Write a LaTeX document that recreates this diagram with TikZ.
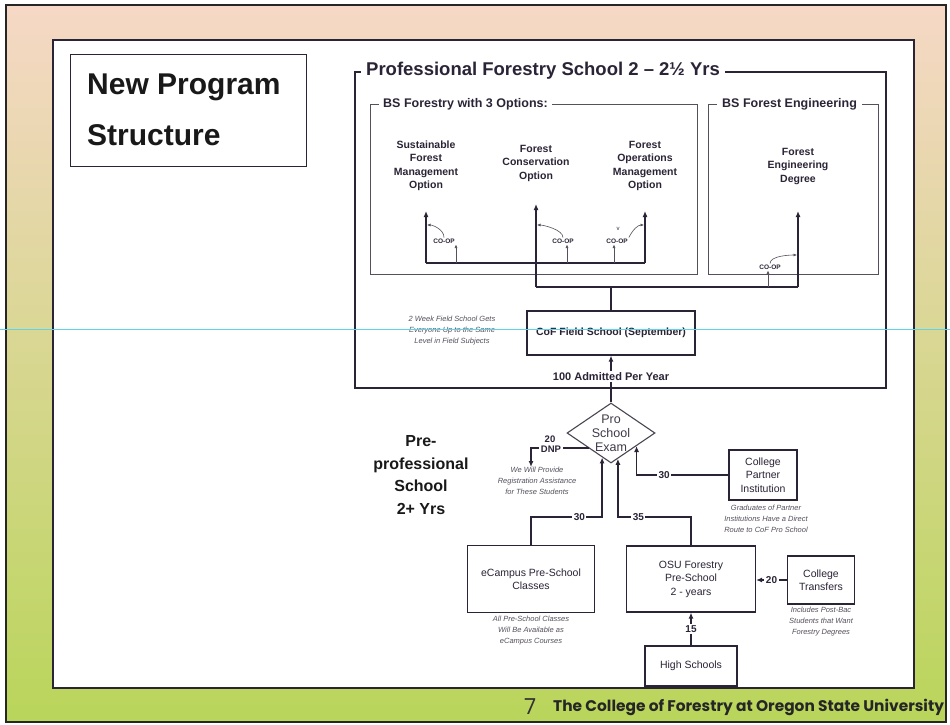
\documentclass[tikz,border=0pt]{standalone}
\usepackage{fontspec}
\setmainfont{Liberation Sans}
\newfontfamily\footfont{Poppins}
\usetikzlibrary{arrows.meta,shapes.geometric}
\definecolor{ink}{HTML}{2B2436}
\definecolor{notegray}{HTML}{55505C}
\definecolor{peach}{HTML}{F6D8C6}
\definecolor{sand}{HTML}{F1DA8E}
\definecolor{lime}{HTML}{B9D55A}
\definecolor{scanline}{HTML}{5FD3EC}
\tikzset{
  box/.style={draw=ink, line width=1.1pt, fill=white, align=center, inner sep=2pt,
    font=\fontsize{10.5}{13.5}\selectfont, text=ink},
  conn/.style={draw=ink, line width=1.7pt},
  arr/.style={conn, -{Latex[length=6pt,width=5pt]}},
  tinyarr/.style={draw=notegray, line width=0.6pt, -{Latex[length=3.5pt,width=3pt]}},
  optlabel/.style={font=\bfseries\fontsize{10.5}{13.5}\selectfont, align=center, text=ink},
  note/.style={font=\itshape\fontsize{7.5}{11}\selectfont, align=center, text=notegray},
  num/.style={font=\bfseries\fontsize{10}{12}\selectfont, fill=white, inner sep=1.5pt, text=ink},
  coop/.style={font=\bfseries\fontsize{6.5}{8}\selectfont, inner sep=1pt, text=ink},
  grouptitle/.style={font=\bfseries\fontsize{12.5}{15}\selectfont, fill=white, inner sep=4pt, anchor=west, text=ink}
}
\begin{document}
\begin{tikzpicture}[x=1pt,y=-1pt]
\useasboundingbox (0,0) rectangle (950,725);
% slide frame
\shade[top color=peach, middle color=sand, bottom color=lime] (6,5) rectangle (946,722);
\draw[black!85, line width=1.8pt] (6,5) rectangle (946,722);
\draw[ink, line width=1.2pt, fill=white] (53,40) rectangle (914,688);

% title box
\node[draw=ink, line width=1pt, fill=white, minimum width=236pt, minimum height=111pt, inner sep=0pt] (titlebox) at (188,110.5) {};
\node[anchor=west, align=left, font=\bfseries\fontsize{30}{51}\selectfont, text=black!90, inner sep=0pt] (titletext) at (87,110) {New Program\\Structure};

% professional school
\draw[ink, line width=1.8pt] (355,72) rectangle (886,388);
\node[grouptitle, font=\bfseries\fontsize{18.5}{20}\selectfont, inner sep=5pt] (proftitle) at (361,71) {Professional Forestry School 2 – 2½ Yrs};

\draw[ink!80, line width=0.9pt] (370,104) rectangle (697,274);
\node[grouptitle] (bsftitle) at (379,104) {BS Forestry with 3 Options:};
\draw[ink!80, line width=0.9pt] (708,104) rectangle (878,274);
\node[grouptitle, inner sep=5pt] (bsfetitle) at (717,104) {BS Forest Engineering};

% option labels
\node[optlabel] (sfm) at (426,166) {Sustainable\\Forest\\Management\\Option};
\node[optlabel] (fc) at (536,163) {Forest\\Conservation\\Option};
\node[optlabel] (fom) at (645,166) {Forest\\Operations\\Management\\Option};
\node[optlabel] (fe) at (798,166) {Forest\\Engineering\\Degree};
\coordinate (sfmtip) at (426,211);
\coordinate (fctip) at (536,204);
\coordinate (fomtip) at (645,211);
\coordinate (fetip) at (798,211);

% junctions
\coordinate (jL) at (426,263);
\coordinate (jR) at (645,263);
\coordinate (jM) at (536,287);
\coordinate (jFE) at (798,287);
\draw[conn] (jL) -- (jR);
\draw[arr] (jL) -- (sfmtip);
\draw[arr] (jR) -- (fomtip);
\draw[arr] (jM) -- (fctip);
\draw[arr] (jFE) -- (fetip);
\draw[conn] (jM) -- (jFE);

% CO-OP labels
\node[coop] (c1) at (444,241) {CO-OP};
\node[coop] (c2) at (563,241) {CO-OP};
\node[coop] (c3) at (617,241) {CO-OP};
\node[coop] (c4) at (770,267) {CO-OP};
\node[coop, font=\fontsize{6}{7}\selectfont] (vmark) at (618,229) {v};
\coordinate (u1) at (456,263);
\coordinate (u2) at (567,263);
\coordinate (u3) at (614,263);
\coordinate (u4) at (768,287);
\draw[tinyarr] (u1) -- (u1 |- c1.south);
\draw[tinyarr] (u2) -- (u2 |- c2.south);
\draw[tinyarr] (u3) -- (u3 |- c3.south);
\draw[tinyarr] (u4) -- (u4 |- c4.south);
\coordinate (l1) at (427,225);
\coordinate (l2) at (537,225);
\coordinate (l3) at (644,225);
\coordinate (l4) at (797,255);
\draw[tinyarr] (c1.north) .. controls +(0,-8) and +(6,0) .. (l1);
\draw[tinyarr] (c2.north) .. controls +(0,-8) and +(6,0) .. (l2);
\draw[tinyarr] (c3.north east) .. controls +(4,-8) and +(-6,0) .. (l3);
\draw[tinyarr] (c4.north) .. controls +(0,-8) and +(-6,0) .. (l4);

% field school
\node[box, font=\bfseries\fontsize{10.5}{13}\selectfont, minimum width=168pt, minimum height=44pt] (field) at (611,333) {CoF Field School (September)};
\draw[conn] (field.north) -- (field.north |- jM);
\node[note] (fieldnote) at (452,331) {2 Week Field School Gets\\Everyone Up to the Same\\Level in Field Subjects};

% exam diamond
\node[diamond, draw=ink!85, line width=1.1pt, fill=white, minimum width=88pt, minimum height=60pt, inner sep=0pt, aspect=1.47] (exam) at (611,433) {};
\node[align=center, font=\fontsize{12.5}{14}\selectfont, text=ink!90, inner sep=0pt] (examtext) at (611,433) {Pro\\School\\Exam};
\draw[arr] (exam.north) -- (field.south) node[pos=0.55, fill=white, inner sep=1.5pt, font=\bfseries\fontsize{11}{13}\selectfont, text=ink] (admit) {100 Admitted Per Year};

% pre-professional label
\node[font=\bfseries\fontsize{16}{22.5}\selectfont, align=center, text=black!90] (pre) at (421,475) {Pre-\\professional\\School\\2+ Yrs};

% DNP
\coordinate (dnpend) at (531,467);
\draw[arr] (exam.south west) -| (dnpend);
\node[num, font=\bfseries\fontsize{9.5}{11}\selectfont] (dnp) at (551,449) {DNP};
\node[num, font=\bfseries\fontsize{9.5}{11}\selectfont, fill=none] (dnpnum) at (550,439) {20};
\node[note] (dnpnote) at (537,481) {We Will Provide\\Registration Assistance\\for These Students};

% college partner
\node[box, minimum width=68pt, minimum height=50pt] (cpi) at (763,475) {College\\Partner\\Institution};
\draw[arr] (cpi.west) -| (exam.333) node[num, pos=0.35] {30};
\node[note] (cpinote) at (766,519) {Graduates of Partner\\Institutions Have a Direct\\Route to CoF Pro School};

% eCampus and OSU
\coordinate (lvl) at (0,517);
\node[box, minimum width=127pt, minimum height=67pt] (ecam) at (531,579) {eCampus Pre-School\\Classes};
\node[note] (ecamnote) at (531,631) {All Pre-School Classes\\Will Be Available as\\eCampus Courses};
\draw[arr] (ecam.north) |- (exam.250 |- lvl) node[num, pos=0.84] {30} -- (exam.250);

\node[box, minimum width=129pt, minimum height=66pt] (osu) at (691,579) {OSU Forestry\\Pre-School\\2 - years};
\draw[arr] (osu.north) |- (exam.285 |- lvl) node[num, pos=0.86] {35} -- (exam.285);

\node[box, minimum width=92pt, minimum height=40pt] (hs) at (691,666) {High Schools};
\draw[arr] (hs.north) -- (osu.south) node[num, midway] {15};

\node[box, minimum width=67pt, minimum height=48pt] (ct) at (821,580) {College\\Transfers};
\draw[arr] (ct.west) -- (ct.west -| osu.east) node[num, midway] {20};
\node[note] (ctnote) at (821,622) {Includes Post-Bac\\Students that Want\\Forestry Degrees};

% footer
\node[font=\footfont\fontsize{22}{24}\selectfont, text=black!80, inner sep=0pt] (pagenum) at (530,707) {7};
\node[anchor=west, font=\footfont\bfseries\fontsize{15.4}{17}\selectfont, text=black!85, inner sep=0pt] (footer) at (553,707) {The College of Forestry at Oregon State University};

% scan line
\draw[scanline, line width=0.8pt] (0,329) -- (950,329);
\end{tikzpicture}
\end{document}
